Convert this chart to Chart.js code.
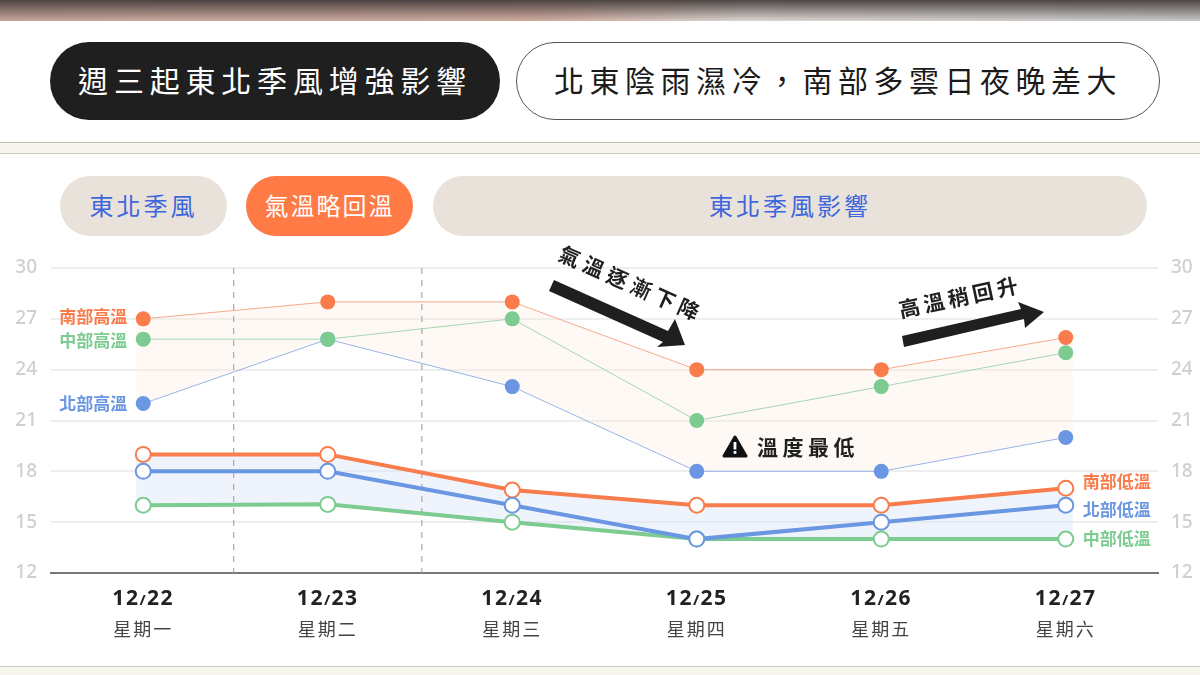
<!DOCTYPE html>
<html lang="zh-Hant">
<head>
<meta charset="utf-8">
<title>週三起東北季風增強影響</title>
<script src="https://cdn.jsdelivr.net/npm/chart.js@4/dist/chart.umd.min.js"></script>
<style>
html,body{margin:0;padding:0;width:1200px;height:675px;overflow:hidden;background:#f6f5ee;font-family:"Noto Sans CJK TC","Noto Sans",sans-serif;}
.abs{position:absolute;box-sizing:border-box;}
#strip{left:0;top:0;width:1200px;height:21px;background:linear-gradient(180deg,rgba(70,62,60,.95) 0%,rgba(70,62,60,0) 100%),linear-gradient(90deg,#c9a79c 0%,#d1aca0 45%,#dcd6d2 62%,#c8c8c8 100%);}
#card1{left:-8px;top:21px;width:1216px;height:122px;background:#fff;border:1px solid #bdbdb5;border-top:0;border-radius:0 0 8px 8px;}
#card2{left:-8px;top:153px;width:1216px;height:514px;background:#fff;border:1px solid #c9c9bf;border-radius:8px;}
.pill{display:flex;align-items:center;justify-content:center;border-radius:40px;white-space:nowrap;}
#head1{left:50px;top:42px;width:450px;height:78px;padding-bottom:5px;background:#1f1f1f;color:#fff;font-size:30px;letter-spacing:5.8px;}
#head2{left:516px;top:42px;width:644px;height:78px;padding-bottom:5px;background:#fff;border:1px solid #555;color:#1a1a1a;font-size:30px;letter-spacing:5.5px;}
.phase{top:176px;height:60px;padding-bottom:4px;font-size:24px;letter-spacing:3px;color:#3f66dc;background:#e9e2da;}
#chart{left:0;top:0;}
.note{font-weight:700;color:#1f1f1f;white-space:nowrap;}
#fall{left:632px;top:283px;font-size:21px;letter-spacing:5px;transform:translate(-50%,-50%) rotate(24deg);}
#rise{left:960px;top:296px;font-size:21px;letter-spacing:4px;transform:translate(-50%,-50%) rotate(-12deg);}
#low{left:757px;top:431px;font-size:21px;letter-spacing:4.5px;line-height:30px;}
svg.abs{left:0;top:0;pointer-events:none;}
</style>
</head>
<body>
<div class="abs" id="strip"></div>
<div class="abs" id="card1"></div>
<div class="abs" id="card2"></div>
<div class="abs pill" id="head1">週三起東北季風增強影響</div>
<div class="abs pill" id="head2">北東陰雨濕冷&#xFF0C;南部多雲日夜晚差大</div>
<div class="abs pill phase" style="left:60px;width:167px">東北季風</div>
<div class="abs pill phase" style="left:246px;width:167px;background:#ff7a45;color:#fff;letter-spacing:2px">氣溫略回溫</div>
<div class="abs pill phase" style="left:433px;width:714px">東北季風影響</div>
<canvas class="abs" id="chart" width="1200" height="675"></canvas>
<svg class="abs" width="1200" height="675">
<polygon fill="#1f1f1f" points="549,291 554,280 668,331 675,319 685,345 657,347 663,342"/>
<polygon fill="#1f1f1f" points="902,336 1021,309 1018,302 1044,312 1025,328 1024,319 904,347"/>
<path fill="#111" stroke="#111" stroke-width="3" stroke-linejoin="round" d="M735,437 L746,456 L724,456 Z"/>
<rect x="733.6" y="442" width="2.8" height="7.5" fill="#fff"/>
<rect x="733.6" y="451" width="2.8" height="2.8" fill="#fff"/>
</svg>
<div class="abs note" id="fall">氣溫逐漸下降</div>
<div class="abs note" id="rise">高溫稍回升</div>
<div class="abs note" id="low">溫度最低</div>
<script>
const dates = ["12/22","12/23","12/24","12/25","12/26","12/27"];
const weekdays = ["星期一","星期二","星期三","星期四","星期五","星期六"];
const yTicks = [12,15,18,21,24,27,30];

const southHigh = [27,28,28,24,24,25.9];
const middleHigh = [25.8,25.8,27,21,23,25];
const northHigh = [22,25.8,23,18,18,20];
const southLow = [19,19,16.9,16,16,17];
const northLow = [18,18,16,14,15,16];
const middleLow = [16,16.05,15,14,14,14];

const dividers = [0.49,1.51];

const orange = "#f97c4c";
const blue = "#6a96e2";
const green = "#7ccb90";

function highLine(label,data,color,lineColor){
return {label:label,data:data,borderColor:lineColor,borderWidth:1,backgroundColor:color,
pointBackgroundColor:color,pointBorderColor:color,pointRadius:7.5,pointBorderWidth:0,tension:0,fill:false};
}
function lowLine(label,data,color){
return {label:label,data:data,borderColor:color,borderWidth:4,backgroundColor:"#fff",
pointBackgroundColor:"#fff",pointBorderColor:color,pointRadius:7.5,pointBorderWidth:2,tension:0,fill:false};
}

/* -------- bands, dividers, series names, date labels -------- */

function band(c,xs,ys,top,bottom,color){
const ctx=c.ctx, n=top.length-1, ext=7;
ctx.beginPath();
ctx.moveTo(xs.getPixelForValue(0)-ext,ys.getPixelForValue(top[0]));
top.forEach((v,i)=>ctx.lineTo(xs.getPixelForValue(i),ys.getPixelForValue(v)));
ctx.lineTo(xs.getPixelForValue(n)+ext,ys.getPixelForValue(top[n]));
ctx.lineTo(xs.getPixelForValue(n)+ext,ys.getPixelForValue(bottom[n]));
for(let i=n;i>=0;i--) ctx.lineTo(xs.getPixelForValue(i),ys.getPixelForValue(bottom[i]));
ctx.lineTo(xs.getPixelForValue(0)-ext,ys.getPixelForValue(bottom[0]));
ctx.closePath();
ctx.fillStyle=color;
ctx.fill();
}

// the slash in the dates is set smaller than the digits
function drawDate(ctx,text,x,y){
const parts=text.split("/");
ctx.letterSpacing="1.5px";
ctx.font='700 21px "Noto Sans"';
const w1=ctx.measureText(parts[0]).width, w2=ctx.measureText(parts[1]).width;
ctx.font='700 15px "Noto Sans"';
const ws=ctx.measureText("/").width;
let left=x-(w1+ws+w2)/2;
ctx.textAlign="left";
ctx.fillText("/",left+w1,y+2);
ctx.font='700 21px "Noto Sans"';
ctx.fillText(parts[0],left,y);
ctx.fillText(parts[1],left+w1+ws,y);
}

const decorations = {
id:"decorations",
beforeDatasetsDraw(c){
const ctx=c.ctx, xs=c.scales.x, ys=c.scales.y, area=c.chartArea;
ctx.save();
band(c,xs,ys,southHigh,northHigh,"rgba(253,236,226,.33)");
band(c,xs,ys,southLow,middleLow,"rgba(214,228,248,.4)");
ctx.strokeStyle="#a8a8a8";
ctx.lineWidth=1.2;
ctx.setLineDash([6,6]);
dividers.forEach(d=>{
ctx.beginPath();
ctx.moveTo(xs.getPixelForValue(d),area.top);
ctx.lineTo(xs.getPixelForValue(d),area.bottom);
ctx.stroke();
});
ctx.restore();
},
afterDatasetsDraw(c){
const ctx=c.ctx, xs=c.scales.x, ys=c.scales.y, area=c.chartArea;
ctx.save();
ctx.textBaseline="middle";
ctx.font='700 17px "Noto Sans CJK TC"';
ctx.textAlign="right";
ctx.fillStyle=orange;
ctx.fillText("南部高溫",xs.getPixelForValue(0)-16,ys.getPixelForValue(southHigh[0])-2);
ctx.fillStyle=green;
ctx.fillText("中部高溫",xs.getPixelForValue(0)-16,ys.getPixelForValue(middleHigh[0])+1);
ctx.fillStyle=blue;
ctx.fillText("北部高溫",xs.getPixelForValue(0)-16,ys.getPixelForValue(northHigh[0]));
ctx.textAlign="left";
ctx.fillStyle=orange;
ctx.fillText("南部低溫",xs.getPixelForValue(5)+17,ys.getPixelForValue(southLow[5])-7);
ctx.fillStyle=blue;
ctx.fillText("北部低溫",xs.getPixelForValue(5)+17,ys.getPixelForValue(northLow[5])+4);
ctx.fillStyle=green;
ctx.fillText("中部低溫",xs.getPixelForValue(5)+17,ys.getPixelForValue(middleLow[5])-1);
dates.forEach((d,i)=>{
const x=xs.getPixelForValue(i);
ctx.fillStyle="#222";
drawDate(ctx,d,x,area.bottom+26);
ctx.textAlign="center";
ctx.fillStyle="#444";
ctx.font='400 18px "Noto Sans CJK TC"';
ctx.letterSpacing="2px";
ctx.fillText(weekdays[i],x,area.bottom+56);
});
ctx.restore();
}
};

/* -------- chart -------- */

function yAxis(position,width,pad){
return {
type:"linear",position:position,min:12,max:30,
afterBuildTicks(s){s.ticks=yTicks.map(v=>({value:v}));},
afterFit(s){s.width=width;s.paddingTop=0;s.paddingBottom=0;},
border:{display:false},
grid:{display:position==="left",color:"#eeeeee",lineWidth:2,drawTicks:false},
ticks:{color:"#cfcfcf",padding:pad,font:{family:"Noto Sans",size:19,weight:"500"}}
};
}

new Chart(document.getElementById("chart").getContext("2d"),{
type:"line",
data:{
labels:dates,
datasets:[
highLine("南部高溫",southHigh,orange,"#f5a98c"),
highLine("中部高溫",middleHigh,green,"#a5d6b1"),
highLine("北部高溫",northHigh,blue,"#97b5e6"),
lowLine("北部低溫",northLow,blue),
lowLine("南部低溫",southLow,orange),
lowLine("中部低溫",middleLow,green)
]
},
plugins:[decorations],
options:{
responsive:false,
animation:false,
layout:{padding:{top:268,bottom:94,left:0,right:0}},
plugins:{legend:{display:false},tooltip:{enabled:false}},
scales:{
x:{offset:true,border:{color:"#777",width:2},grid:{display:false},ticks:{display:false}},
y:yAxis("left",51,14),
yRight:yAxis("right",42,13)
}
}
});
</script>
</body>
</html>
